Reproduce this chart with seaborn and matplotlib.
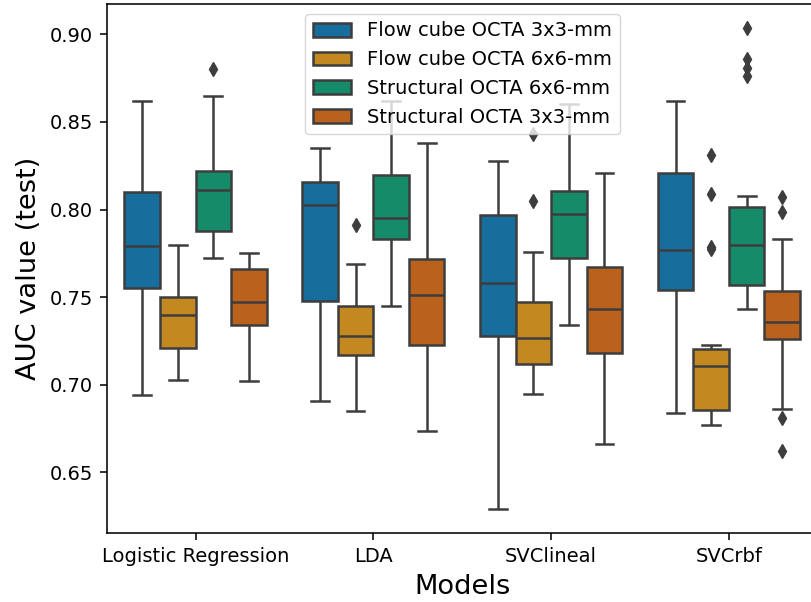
import matplotlib
matplotlib.use("Agg")
import matplotlib.pyplot as plt
import pandas as pd
import seaborn as sns

models = ["Logistic Regression", "LDA", "SVClineal", "SVCrbf"]
datasets = ["Flow cube OCTA 3x3-mm", "Flow cube OCTA 6x6-mm",
            "Structural OCTA 6x6-mm", "Structural OCTA 3x3-mm"]

# Test-set AUC per repetition, one list per model / dataset
lr_flow3 = [.694, .721, .743, .755, .763, .772, .779, .788, .801, .810, .829, .846, .862]
lr_flow6 = [.703, .709, .716, .721, .727, .735, .740, .743, .746, .750, .757, .768, .780]
lr_struct6 = [.7725, .777, .784, .788, .797, .805, .811, .814, .818, .822, .838, .865, .880]
lr_struct3 = [.702, .716, .727, .734, .739, .743, .747, .752, .760, .766, .769, .772, .775]

lda_flow3 = [.691, .712, .733, .748, .771, .790, .8025, .806, .811, .816, .822, .829, .835]
lda_flow6 = [.685, .700, .710, .717, .720, .725, .728, .733, .740, .745, .755, .769, .791]
lda_struct6 = [.745, .762, .776, .783, .787, .791, .795, .801, .812, .8196, .833, .849, .862]
lda_struct3 = [.6735, .694, .711, .723, .734, .744, .751, .758, .765, .772, .791, .814, .838]

svl_flow3 = [.629, .676, .709, .728, .739, .750, .758, .771, .786, .797, .808, .819, .828]
svl_flow6 = [.695, .701, .707, .712, .716, .722, .7265, .733, .741, .747, .776, .805, .843]
svl_struct6 = [.734, .751, .765, .7725, .781, .791, .7976, .802, .806, .8106, .826, .843, .860]
svl_struct3 = [.666, .688, .705, .718, .727, .736, .743, .751, .760, .7675, .781, .801, .821]

svr_flow3 = [.684, .716, .740, .754, .762, .770, .777, .790, .806, .821, .835, .849, .862]
svr_flow6 = [.677, .679, .681, .683, .685, .6857, .690, .696, .702, .707, .711,
             .713, .715, .717, .719, .7206, .7225, .7775, .7785, .809, .831]
svr_struct6 = [.743, .746, .749, .752, .755, .7567, .761, .766, .771, .776, .780,
               .785, .790, .795, .799, .8016, .808, .876, .881, .886, .9036]
svr_struct3 = [.662, .681, .686, .7262, .729, .733, .736, .740, .746, .7533, .783, .7986, .807]

results = [
    [lr_flow3, lr_flow6, lr_struct6, lr_struct3],
    [lda_flow3, lda_flow6, lda_struct6, lda_struct3],
    [svl_flow3, svl_flow6, svl_struct6, svl_struct3],
    [svr_flow3, svr_flow6, svr_struct6, svr_struct3],
]

rows = []
for model, groups in zip(models, results):
    for dataset, values in zip(datasets, groups):
        rows += [(model, dataset, v) for v in values]
df = pd.DataFrame(rows, columns=["Models", "Dataset", "AUC value (test)"])

plt.rcParams.update({
    "axes.linewidth": 1.13,
    "xtick.major.size": 4.9, "ytick.major.size": 4.9,
    "xtick.major.width": 1.13, "ytick.major.width": 1.13,
    "xtick.major.pad": 4.9, "ytick.major.pad": 4.9,
    "xtick.labelsize": 14, "ytick.labelsize": 14,
    "axes.labelsize": 19.6, "axes.labelpad": 5.6,
})

line_gray = "#3d3d3d"
fig = plt.figure(figsize=(8.11, 6.02), dpi=100)
ax = fig.add_axes([106.7 / 811, 1 - 533.3 / 602, (817.8 - 106.7) / 811, (533.3 - 4) / 602])

sns.boxplot(
    data=df, x="Models", y="AUC value (test)", hue="Dataset",
    order=models, hue_order=datasets, palette="colorblind", saturation=0.75,
    width=0.8, linewidth=1.8, linecolor=line_gray, fliersize=7,
    flierprops=dict(marker="d", markerfacecolor=line_gray, markeredgecolor=line_gray),
    ax=ax,
)

sns.move_legend(ax, "upper center", title=None, fontsize=14)

fig.savefig("out.png", dpi=100)
